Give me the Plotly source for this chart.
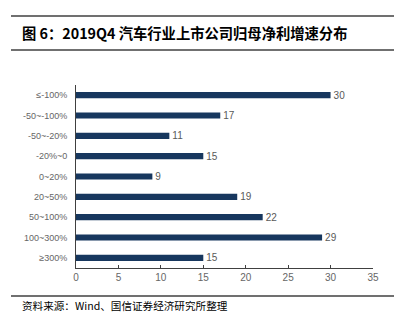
import plotly.graph_objects as go

categories = ["≤-100%", "-50~-100%", "-50~-20%", "-20%~0", "0~20%", "20~50%", "50~100%", "100~300%", "≥300%"]
values = [30, 17, 11, 15, 9, 19, 22, 29, 15]
x_ticks = [0, 5, 10, 15, 20, 25, 30, 35]

title_text = "图 6：2019Q4 汽车行业上市公司归母净利增速分布"
source_text = "资料来源：Wind、国信证券经济研究所整理"

L, R, T, B = 76, 21, 85, 59
W, H = 394, 327
pw, ph = W - L - R, H - T - B

def px(x):
    return (x - L) / pw

def py(y):
    return (H - B - y) / ph

fig = go.Figure(go.Bar(
    x=values, y=categories, orientation="h",
    marker=dict(color="#17375E", line=dict(width=0)),
    width=0.3,
    text=[str(v) for v in values], textposition="outside",
    constraintext="none",
    textfont=dict(family="Liberation Sans, Arial", size=10, color="#595959"),
    cliponaxis=False,
))

fig.update_layout(
    width=W, height=H,
    margin=dict(l=L, r=R, t=T, b=B),
    paper_bgcolor="white", plot_bgcolor="white",
    showlegend=False,
    bargap=0.7,
    xaxis=dict(range=[0, 35], tickvals=x_ticks, showgrid=False, zeroline=False,
               showline=True, linecolor="#404040", linewidth=1,
               ticks="inside", ticklen=3, tickcolor="#404040",
               tickfont=dict(family="Liberation Sans, Arial", size=10, color="#666666")),
    yaxis=dict(categoryorder="array", categoryarray=categories[::-1], range=[-0.5, 8.5],
               showgrid=False, zeroline=False, showline=True, linecolor="#404040", linewidth=1,
               ticks="", ticklabelstandoff=6,
               tickfont=dict(family="Liberation Sans, Arial", size=9, color="#666666")),
)

for yy in (16, 50, 296):
    fig.add_shape(type="line", xref="paper", yref="paper",
                  x0=px(11), x1=px(394), y0=py(yy), y1=py(yy),
                  line=dict(color="#404040", width=1.5))

fig.add_annotation(text="<b>" + title_text + "</b>", xref="paper", yref="paper",
                   x=px(20), y=py(33), xanchor="left", yanchor="middle", showarrow=False,
                   font=dict(family="Noto Sans CJK SC", size=14.3, color="black"))
fig.add_annotation(text=source_text, xref="paper", yref="paper",
                   x=px(20), y=py(305), xanchor="left", yanchor="middle", showarrow=False,
                   font=dict(family="Noto Sans CJK SC", size=10.6, color="black"))

fig.write_html("out.html")
